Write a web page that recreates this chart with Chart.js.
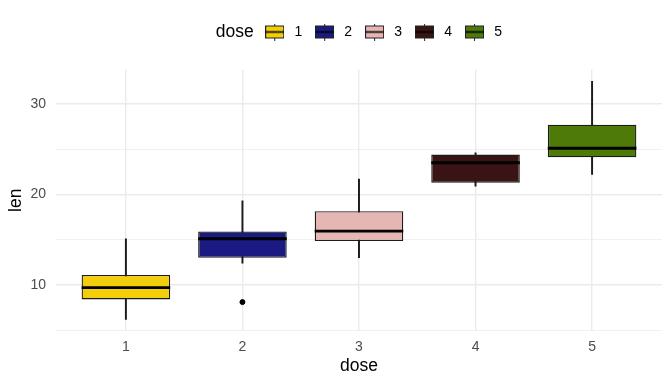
<!DOCTYPE html>
<html>
<head>
<meta charset="utf-8">
<script src="https://cdn.jsdelivr.net/npm/chart.js@4"></script>
<style>
  html, body { margin: 0; padding: 0; background: #fff; }
  #wrap { width: 672px; height: 384px; }
</style>
</head>
<body>
<div id="wrap"><canvas id="chart"></canvas></div>
<script>
// box statistics per dose
const doses = [1, 2, 3, 4, 5];
const lowerWhisker = [6.2, 12.4, 13.0, 20.9, 22.2];
const q1 = [8.4, 13.0, 14.85, 21.3, 24.1];
const median = [9.7, 15.1, 15.95, 23.5, 25.1];
const q3 = [11.1, 15.9, 18.15, 24.4, 27.7];
const upperWhisker = [15.1, 19.3, 21.7, 24.6, 32.5];
const outlierDose = [2];
const outlierLen = [8.1];
const fillColors = ['#F3CE0B', '#1A1A82', '#E6B6B2', '#3A1414', '#4E7A08'];
const yTicks = [5, 10, 15, 20, 25, 30];
const yLabels = [10, 20, 30];

const FONT = 'Liberation Sans, Arial, Helvetica, sans-serif';
Chart.defaults.font.family = FONT;

// y range like ggplot: data range + 5% each side
const allY = lowerWhisker.concat(upperWhisker, outlierLen);
const lo = Math.min(...allY), hi = Math.max(...allY);
const yMin = lo - (hi - lo) * 0.05;
const yMax = hi + (hi - lo) * 0.05;

// legend key: little box with median line and whisker stubs
function keyGlyph(color) {
    const c = document.createElement('canvas');
    c.width = 19;
    c.height = 17;
    const g = c.getContext('2d');
    g.strokeStyle = '#222';
    g.lineWidth = 1;
    g.beginPath();
    g.moveTo(9.5, 0); g.lineTo(9.5, 3);
    g.moveTo(9.5, 14); g.lineTo(9.5, 17);
    g.stroke();
    g.fillStyle = color;
    g.fillRect(0.5, 2.5, 18, 12);
    g.strokeRect(0.5, 2.5, 18, 12);
    g.strokeStyle = '#000';
    g.lineWidth = 1.6;
    g.beginPath();
    g.moveTo(0.5, 8.5); g.lineTo(18.5, 8.5);
    g.stroke();
    return c;
}
const blank = document.createElement('canvas');
blank.width = 1;
blank.height = 1;

// median lines across each box
const medianLines = {
    id: 'medianLines',
    afterDatasetsDraw(chart) {
        const ctx = chart.ctx;
        const yScale = chart.scales.y;
        const meta = chart.getDatasetMeta(0);
        ctx.save();
        ctx.strokeStyle = '#000';
        ctx.lineWidth = 2.8;
        meta.data.forEach((bar, i) => {
            const { x, width } = bar.getProps(['x', 'width'], true);
            const py = yScale.getPixelForValue(median[i]);
            ctx.beginPath();
            ctx.moveTo(x - width / 2, py);
            ctx.lineTo(x + width / 2, py);
            ctx.stroke();
        });
        ctx.restore();
    }
};

// "dose" title sitting left of the legend keys, plus space under the legend
const legendExtras = {
    id: 'legendExtras',
    beforeInit(chart) {
        const fit = chart.legend.fit;
        chart.legend.fit = function () {
            fit.call(this);
            this.height += 20.4;
        };
    },
    afterDraw(chart) {
        const boxes = chart.legend.legendHitBoxes;
        if (!boxes || boxes.length < 2) return;
        const first = boxes[1];
        const ctx = chart.ctx;
        ctx.save();
        ctx.font = '17.5px ' + FONT;
        ctx.fillStyle = '#000';
        ctx.textAlign = 'right';
        ctx.textBaseline = 'middle';
        ctx.fillText('dose', first.left + 1 - 21, first.top + first.height / 2);
        ctx.restore();
    }
};

const ctx = document.getElementById('chart').getContext('2d');
new Chart(ctx, {
    type: 'bar',
    data: {
        datasets: [
            {
                label: 'box',
                data: doses.map((d, i) => ({ x: d, y: [q1[i], q3[i]] })),
                backgroundColor: fillColors,
                borderColor: '#1C1C1C',
                borderWidth: 1.3,
                borderSkipped: false,
                grouped: false,
                categoryPercentage: 1,
                barPercentage: 0.76
            },
            {
                label: 'whisker',
                data: doses.map((d, i) => ({ x: d, y: [lowerWhisker[i], upperWhisker[i]] })),
                backgroundColor: '#1C1C1C',
                borderWidth: 0,
                grouped: false,
                barThickness: 1.3
            },
            {
                type: 'scatter',
                label: 'outlier',
                data: outlierDose.map((d, i) => ({ x: d, y: outlierLen[i] })),
                backgroundColor: '#000',
                borderColor: '#000',
                pointRadius: 2.5,
                pointHoverRadius: 2.5
            }
        ]
    },
    options: {
        responsive: true,
        maintainAspectRatio: false,
        animation: false,
        layout: { padding: { top: 3.5, right: 10, left: 4, bottom: 5 } },
        plugins: {
            tooltip: { enabled: false },
            legend: {
                position: 'top',
                fullSize: false,
                onClick: null,
                labels: {
                    usePointStyle: true,
                    pointStyleWidth: 2,
                    padding: 21.5,
                    color: '#000',
                    font: { size: 14 },
                    generateLabels: () => [
                        {
                            text: '       ',
                            fontColor: 'rgba(0,0,0,0)',
                            pointStyle: blank,
                            fillStyle: 'rgba(0,0,0,0)',
                            strokeStyle: 'rgba(0,0,0,0)',
                            lineWidth: 0,
                            hidden: false
                        }
                    ].concat(doses.map((d, i) => ({
                        text: '   ' + d,
                        fontColor: '#000',
                        pointStyle: keyGlyph(fillColors[i]),
                        fillStyle: fillColors[i],
                        strokeStyle: '#222',
                        lineWidth: 1,
                        hidden: false
                    })))
                }
            }
        },
        scales: {
            x: {
                type: 'linear',
                min: 0.4,
                max: 5.6,
                offset: false,
                afterBuildTicks: s => { s.ticks = doses.map(v => ({ value: v })); },
                afterFit: s => { s.height -= 9; },
                grid: { color: '#EBEBEB', lineWidth: 1.4, drawTicks: false, offset: false },
                border: { display: false },
                ticks: { color: '#4D4D4D', font: { size: 14 }, padding: 8 },
                title: {
                    display: true,
                    text: 'dose',
                    color: '#000',
                    font: { size: 17.5 },
                    padding: { top: 1, bottom: 2 }
                }
            },
            y: {
                type: 'linear',
                min: yMin,
                max: yMax,
                afterBuildTicks: s => { s.ticks = yTicks.map(v => ({ value: v })); },
                afterFit: s => { s.width -= 11; },
                grid: {
                    color: '#EBEBEB',
                    lineWidth: c => (yLabels.includes(c.tick && c.tick.value) ? 1.4 : 0.7),
                    drawTicks: false
                },
                border: { display: false },
                ticks: {
                    color: '#4D4D4D',
                    font: { size: 14 },
                    padding: 10,
                    callback: v => (yLabels.includes(v) ? v : '')
                },
                title: {
                    display: true,
                    text: 'len',
                    color: '#000',
                    font: { size: 17.5 },
                    padding: { top: 2, bottom: 4.4 }
                }
            }
        }
    },
    plugins: [medianLines, legendExtras]
});
</script>
</body>
</html>
